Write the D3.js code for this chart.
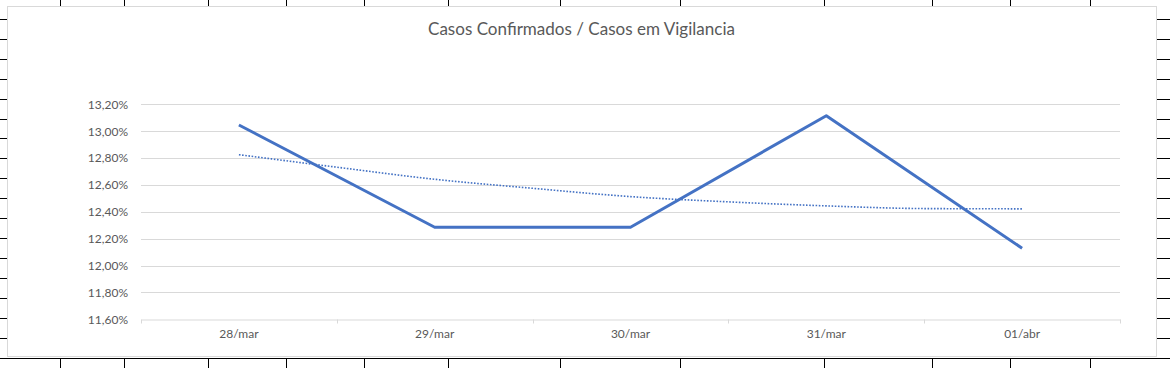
<!DOCTYPE html>
<html>
<head>
<meta charset="utf-8">
<script src="https://cdn.jsdelivr.net/npm/d3@7"></script>
<style>
html,body{margin:0;padding:0;background:#fff;}
svg{display:block;}
text{font-family:Lato,"Liberation Sans",sans-serif;}
</style>
</head>
<body>
<svg id="c" width="1170" height="368"></svg>
<script>
// ---- data ----
const title = "Casos Confirmados / Casos em Vigilancia";
const categories = ["28/mar", "29/mar", "30/mar", "31/mar", "01/abr"];
const values = [13.046, 12.285, 12.285, 13.115, 12.129];
// dotted trend line (positions in category units)
const trendPos = [0, 0.5, 1, 1.5, 2, 2.5, 3, 3.5, 4];
const trendValues = [12.825, 12.732, 12.642, 12.575, 12.513, 12.474, 12.444, 12.424, 12.422];
const yTicks = [11.6, 11.8, 12.0, 12.2, 12.4, 12.6, 12.8, 13.0, 13.2];
// spreadsheet grid behind the chart (decoration)
const colLines = [60, 124, 208, 286, 364, 448, 560, 680, 824, 932, 1010, 1090];

const svg = d3.select("#c");
const W = 1170, H = 368;

// sheet grid in margins
const grid = svg.append("g").attr("stroke", "#000").attr("stroke-width", 1).attr("shape-rendering", "crispEdges");
for (let i = 0; i < 17; i++) {
  const yy = Math.round(18.7 + i * 19.96) + 0.5;
  grid.append("line").attr("x1", 0).attr("x2", 7).attr("y1", yy).attr("y2", yy);
  grid.append("line").attr("x1", 1157).attr("x2", W).attr("y1", yy).attr("y2", yy);
}
grid.append("line").attr("x1", 0).attr("x2", W).attr("y1", 358.5).attr("y2", 358.5);
colLines.forEach(cx => {
  grid.append("line").attr("x1", cx + 0.5).attr("x2", cx + 0.5).attr("y1", 0).attr("y2", 6);
  grid.append("line").attr("x1", cx + 0.5).attr("x2", cx + 0.5).attr("y1", 358).attr("y2", H);
});

// chart area
svg.append("rect").attr("x", 7.5).attr("y", 6.5).attr("width", 1149).attr("height", 350)
  .attr("fill", "#fff").attr("stroke", "#d9d9d9").attr("stroke-width", 1);

const L = 141, R = 1120, T = 104.3, B = 319.3;
const x = d3.scaleBand().domain(categories).range([L, R]).paddingInner(0).paddingOuter(0);
const xi = d3.scaleLinear().domain([-0.5, categories.length - 0.5]).range([L, R]);
const y = d3.scaleLinear().domain([11.6, 13.2]).range([B, T]);

const fmt = v => v.toFixed(2).replace(".", ",") + "%";

// gridlines
svg.append("g").selectAll("line").data(yTicks.slice(1)).join("line")
  .attr("x1", L).attr("x2", R)
  .attr("y1", d => Math.round(y(d)) + 0.5).attr("y2", d => Math.round(y(d)) + 0.5)
  .attr("stroke", "#d9d9d9").attr("stroke-width", 1);

// y axis labels
const yAxis = d3.axisLeft(y).tickValues(yTicks).tickFormat(fmt).tickSize(0).tickPadding(0);
const ya = svg.append("g").attr("transform", `translate(${L - 13},0)`).call(yAxis);
ya.select(".domain").remove();
ya.selectAll("text").attr("fill", "#595959").style("font-size", "12px").style("font-family", "Lato,'Liberation Sans',sans-serif");

// x axis
const xAxis = d3.axisBottom(x).tickSize(0).tickPadding(0);
const xa = svg.append("g").attr("transform", `translate(0,${Math.round(B) + 0.5})`).call(xAxis);
xa.select(".domain").attr("stroke", "#d9d9d9");
xa.selectAll("text").attr("fill", "#595959").attr("dy", "0").attr("y", 18).style("font-size", "12px")
  .style("font-family", "Lato,'Liberation Sans',sans-serif");
// boundary tick marks
const bounds = categories.map(c => x(c)).concat([R]);
xa.selectAll("line.bt").data(bounds).join("line").attr("class", "bt")
  .attr("x1", d => Math.round(d) + 0.5).attr("x2", d => Math.round(d) + 0.5)
  .attr("y1", 0).attr("y2", 4).attr("stroke", "#d9d9d9");

// trend line (dotted)
const trend = trendPos.map((p, i) => [p, trendValues[i]]);
svg.append("path").datum(trend)
  .attr("d", d3.line().x(d => xi(d[0])).y(d => y(d[1])).curve(d3.curveMonotoneX))
  .attr("fill", "none").attr("stroke", "#4472C4").attr("stroke-width", 1.6)
  .attr("stroke-dasharray", "1.6,1.6");

// main line
svg.append("path").datum(values)
  .attr("d", d3.line().x((d, i) => x(categories[i]) + x.bandwidth() / 2).y(d => y(d)))
  .attr("fill", "none").attr("stroke", "#4472C4").attr("stroke-width", 3)
  .attr("stroke-linejoin", "round");

// title
svg.append("text").attr("x", 581.5).attr("y", 35).attr("text-anchor", "middle")
  .attr("fill", "#595959").style("font-size", "17.6px")
  .attr("textLength", 307).attr("lengthAdjust", "spacingAndGlyphs").text(title);
</script>
</body>
</html>
